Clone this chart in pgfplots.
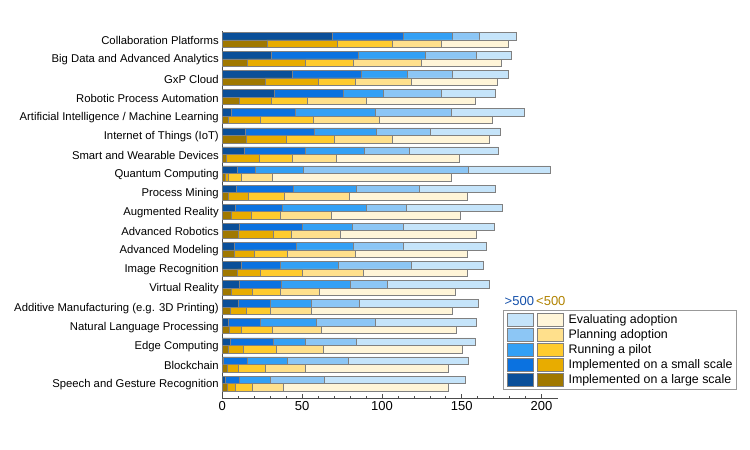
\documentclass[border=0pt]{standalone}
\usepackage{pgfplots}
\pgfplotsset{compat=1.18}
\usepackage{pgfplotstable}
\usepackage{fontspec}
\setmainfont{Liberation Sans}

\definecolor{bA}{HTML}{0A4F99}
\definecolor{bB}{HTML}{0B72E0}
\definecolor{bC}{HTML}{33A0F5}
\definecolor{bD}{HTML}{8CC6F5}
\definecolor{bE}{HTML}{C5E4FA}
\definecolor{gA}{HTML}{A07800}
\definecolor{gB}{HTML}{E8AC00}
\definecolor{gC}{HTML}{FFCB2E}
\definecolor{gD}{HTML}{FFE08C}
\definecolor{gE}{HTML}{FFF5D8}
\definecolor{tb}{HTML}{1450AA}
\definecolor{tg}{HTML}{B08200}

% >500 companies
\pgfplotstableread{
y L S P Pl E
0 69.1 44.1 30.9 17.1 23.0
1 30.7 54.3 42.2 32.2 21.9
2 43.9 43.2 28.8 28.2 35.1
3 32.6 43.2 25.1 36.5 33.9
4 5.6 40.3 50.2 47.2 45.9
5 14.6 43.3 38.4 33.8 43.9
6 13.8 38.4 37.0 28.2 55.5
7 9.6 11.3 30.1 103.3 51.0
8 8.8 35.9 39.5 39.0 48.1
9 7.9 29.9 52.2 25.3 60.1
10 10.7 39.2 31.3 32.2 57.0
11 7.7 38.5 35.9 31.1 52.2
12 11.7 24.4 36.8 45.5 45.1
13 10.7 26.3 43.0 23.2 64.3
14 9.8 20.1 26.1 30.0 74.4
15 3.6 20.4 35.1 37.0 63.3
16 4.8 27.2 20.2 32.0 74.1
17 0.6 15.1 25.2 38.3 74.9
18 1.9 9.0 19.0 34.2 88.4
}\bluetab

% <500 companies
\pgfplotstableread{
y L S P Pl E
0 28.0 44.1 34.2 30.9 42.2
1 15.9 36.3 30.1 42.2 50.1
2 26.9 33.3 23.1 35.1 54.1
3 10.7 20.2 22.4 36.7 68.5
4 3.8 20.2 33.2 41.2 71.0
5 14.8 25.3 30.3 35.9 61.0
6 2.3 20.7 21.1 27.1 77.3
7 1.7 2.3 8.1 19.0 112.4
8 3.8 12.3 23.0 40.3 73.9
9 5.8 12.4 18.1 31.8 81.0
10 10.0 22.2 10.8 31.1 85.3
11 7.5 12.3 21.1 42.4 70.2
12 9.6 14.4 26.1 38.2 65.2
13 5.8 13.2 17.3 24.5 85.0
14 4.8 10.4 14.9 25.9 88.3
15 4.2 7.7 19.2 31.1 84.4
16 3.6 9.3 21.1 29.3 87.1
17 3.1 6.9 17.2 25.0 89.4
18 3.1 4.8 11.1 19.2 103.4
}\goldtab

\pgfplotsset{
  base/.style={
    width=336pt, height=367pt, scale only axis,
    xmin=0, xmax=210.5, ymin=-0.46, ymax=18.76, y dir=reverse,
    at={(222.3pt,52pt)}, anchor=south west,
    xbar stacked, bar width=7.5pt,
    every axis plot/.append style={draw=black!50, line width=0.5pt},
  },
  swatch/.style 2 args={legend image code/.code={
      \path (0pt,0pt) (61pt,0pt);
      \draw[fill=#1, draw=black!50, line width=0.5pt] (2pt,-6.5pt) rectangle (28pt,6.5pt);
      \draw[fill=#2, draw=black!50, line width=0.5pt] (32pt,-6.5pt) rectangle (58pt,6.5pt);
  }},
}

\begin{document}
\begin{tikzpicture}
\useasboundingbox (0,0) rectangle (750pt,450pt);
\begin{axis}[base,
  axis x line*=bottom, axis y line*=left,
  axis line style={black!70, line width=0.6pt},
  xtick={0,50,...,200}, minor x tick num=4,
  tick align=inside, major tick length=4pt, minor tick length=2.5pt,
  x tick style={black!70, line width=0.6pt},
  ytick={0,...,18},
  yticklabels={Collaboration Platforms, Big Data and Advanced Analytics, GxP Cloud, Robotic Process Automation, Artificial Intelligence / Machine Learning, Internet of Things (IoT), Smart and Wearable Devices, Quantum Computing, Process Mining, Augmented Reality, Advanced Robotics, Advanced Modeling, Image Recognition, Virtual Reality, Additive Manufacturing (e.g. 3D Printing), Natural Language Processing, Edge Computing, Blockchain, Speech and Gesture Recognition},
  ytick style={draw=none},
  yticklabel style={font=\fontsize{11.3}{13}\selectfont, yshift=-1pt},
  xticklabel style={font=\fontsize{13}{15}\selectfont},
  /pgf/number format/assume math mode=true,
]
\addplot[fill=bA] table[x=L, y expr=\thisrow{y}-0.196]{\bluetab};
\addplot[fill=bB] table[x=S, y expr=\thisrow{y}-0.196]{\bluetab};
\addplot[fill=bC] table[x=P, y expr=\thisrow{y}-0.196]{\bluetab};
\addplot[fill=bD] table[x=Pl, y expr=\thisrow{y}-0.196]{\bluetab};
\addplot[fill=bE] table[x=E, y expr=\thisrow{y}-0.196]{\bluetab};
\end{axis}
\begin{axis}[base, hide axis, clip=false,
  legend style={at={(rel axis cs:0.835,0.0245)}, anchor=south west,
    draw=black!40, fill=white, font=\fontsize{12.4}{14}\selectfont,
    cells={anchor=west}, row sep=0.5pt, inner sep=2pt},
]
\addplot[fill=gA, forget plot] table[x=L, y expr=\thisrow{y}+0.196]{\goldtab};
\addplot[fill=gB, forget plot] table[x=S, y expr=\thisrow{y}+0.196]{\goldtab};
\addplot[fill=gC, forget plot] table[x=P, y expr=\thisrow{y}+0.196]{\goldtab};
\addplot[fill=gD, forget plot] table[x=Pl, y expr=\thisrow{y}+0.196]{\goldtab};
\addplot[fill=gE, forget plot] table[x=E, y expr=\thisrow{y}+0.196]{\goldtab};
\addlegendimage{swatch={bE}{gE}}\addlegendentry{Evaluating adoption}
\addlegendimage{swatch={bD}{gD}}\addlegendentry{Planning adoption}
\addlegendimage{swatch={bC}{gC}}\addlegendentry{Running a pilot}
\addlegendimage{swatch={bB}{gB}}\addlegendentry{Implemented on a small scale}
\addlegendimage{swatch={bA}{gA}}\addlegendentry{Implemented on a large scale}
\node[anchor=south west, inner sep=0pt, font=\fontsize{13}{15}\selectfont]
  at (rel axis cs:0.84,0.25) {\textcolor{tb}{>500}\,\textcolor{tg}{<500}};
\end{axis}
\end{tikzpicture}
\end{document}
